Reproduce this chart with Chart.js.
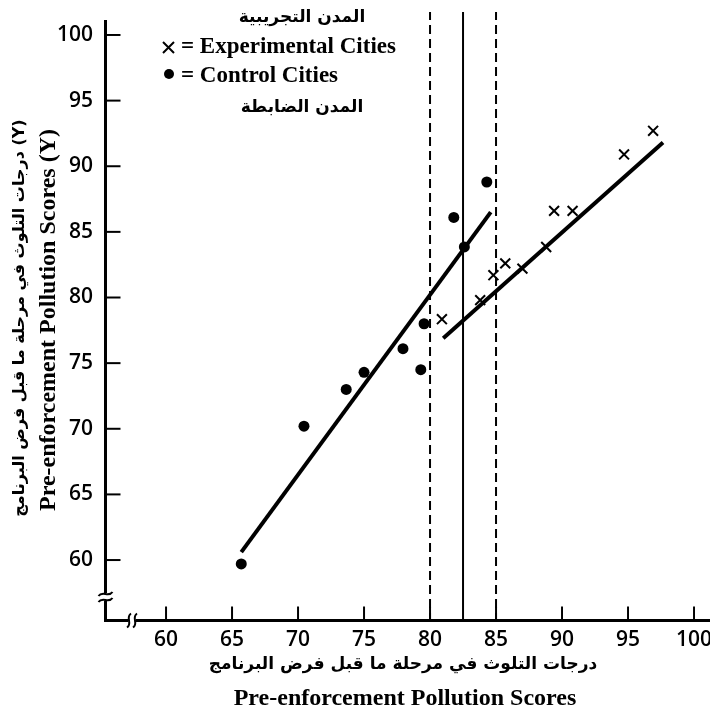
<!DOCTYPE html>
<html>
<head>
<meta charset="utf-8">
<script src="https://cdn.jsdelivr.net/npm/chart.js@4/dist/chart.umd.min.js"></script>
<style>
  html, body { margin: 0; padding: 0; background: #fff; }
  #wrap { width: 710px; height: 711px; position: relative; }
</style>
</head>
<body>
<div id="wrap"><canvas id="c" width="710" height="711"></canvas></div>
<script>
// ---- data ----
const xTickValues = [60, 65, 70, 75, 80, 85, 90, 95, 100];
const yTickValues = [60, 65, 70, 75, 80, 85, 90, 95, 100];

const controlX = [65.7, 70.45, 73.65, 75.0, 77.95, 79.3, 79.55, 81.8, 82.6, 84.3];
const controlY = [59.7, 70.2, 73.0, 74.3, 76.1, 74.5, 78.0, 86.1, 83.85, 88.8];

const experimentalX = [80.9, 83.8, 84.8, 85.7, 87.0, 88.8, 89.4, 90.8, 94.7, 96.9];
const experimentalY = [78.35, 79.8, 81.7, 82.6, 82.2, 83.85, 86.6, 86.6, 90.9, 92.7];

const controlFitX = [65.7, 84.6];
const controlFitY = [60.6, 86.5];
const experimentalFitX = [81.0, 97.65];
const experimentalFitY = [76.9, 91.8];

const cutoffSolid = [82.5];
const cutoffDashed = [80, 85];

const legendArabicTop = 'المدن التجريبية';
const legendExperimental = '= Experimental Cities';
const legendControl = '= Control Cities';
const legendArabicBottom = 'المدن الضابطة';
const xTitleArabic = 'درجات التلوث في مرحلة ما قبل فرض البرنامج';
const xTitleEnglish = 'Pre-enforcement Pollution Scores';
const yTitleArabic = '(Y) درجات التلوث في مرحلة ما قبل فرض البرنامج';
const yTitleEnglish = 'Pre-enforcement Pollution Scores (Y)';

const X_MIN = 55.3, X_MAX = 101.21, Y_MIN = 55.28, Y_MAX = 101.75;

// ---- build datasets ----
const zip = (xs, ys) => xs.map((x, i) => ({ x, y: ys[i] }));
const datasets = [];
cutoffDashed.forEach(v => datasets.push({
  type: 'line', data: [{ x: v, y: Y_MIN }, { x: v, y: Y_MAX }],
  borderColor: '#000', borderWidth: 2, borderDash: [9, 5], pointRadius: 0, fill: false
}));
cutoffSolid.forEach(v => datasets.push({
  type: 'line', data: [{ x: v, y: Y_MIN }, { x: v, y: Y_MAX }],
  borderColor: '#000', borderWidth: 2, pointRadius: 0, fill: false
}));
datasets.push({
  type: 'line', data: zip(controlFitX, controlFitY),
  borderColor: '#000', borderWidth: 4, pointRadius: 0, fill: false
});
datasets.push({
  type: 'line', data: zip(experimentalFitX, experimentalFitY),
  borderColor: '#000', borderWidth: 4, pointRadius: 0, fill: false
});
datasets.push({
  type: 'scatter', data: zip(controlX, controlY),
  pointStyle: 'circle', pointRadius: 5.5, backgroundColor: '#000', borderColor: '#000', borderWidth: 0
});
datasets.push({
  type: 'scatter', data: zip(experimentalX, experimentalY),
  pointStyle: 'crossRot', pointRadius: 7, borderColor: '#000', borderWidth: 2
});

const SERIF = '"Liberation Serif", "DejaVu Serif", serif';
const ARABIC = '"DejaVu Sans", "Noto Sans", sans-serif';
const TICKFAMILY = '"Open Sans", "Noto Sans", sans-serif';
const TICKFONT = { family: TICKFAMILY, size: 21, weight: '600' };

function drawBreakH(ctx, cx, cy) {
  ctx.save();
  ctx.fillStyle = '#fff';
  ctx.fillRect(cx - 4, cy - 3, 8, 6);
  ctx.strokeStyle = '#000';
  ctx.lineWidth = 2;
  [-3, 3].forEach(dx => {
    ctx.beginPath();
    ctx.moveTo(cx + dx + 2, cy - 7);
    ctx.bezierCurveTo(cx + dx - 4, cy - 3, cx + dx + 4, cy + 3, cx + dx - 2, cy + 7);
    ctx.stroke();
  });
  ctx.restore();
}
function drawBreakV(ctx, cx, cy) {
  ctx.save();
  ctx.fillStyle = '#fff';
  ctx.fillRect(cx - 3, cy - 4, 6, 8);
  ctx.strokeStyle = '#000';
  ctx.lineWidth = 2;
  [-3, 3].forEach(dy => {
    ctx.beginPath();
    ctx.moveTo(cx - 7, cy + dy + 2);
    ctx.bezierCurveTo(cx - 3, cy + dy - 4, cx + 3, cy + dy + 4, cx + 7, cy + dy - 2);
    ctx.stroke();
  });
  ctx.restore();
}

const decor = {
  id: 'decor',
  afterDraw(chart) {
    const { ctx, chartArea: ca, scales: { x, y } } = chart;
    ctx.save();
    ctx.strokeStyle = '#000';
    ctx.lineCap = 'butt';
    const ax = ca.left + 1.5, ay = ca.bottom - 1.5;
    ctx.lineWidth = 3;
    ctx.beginPath();
    ctx.moveTo(ax, 20);
    ctx.lineTo(ax, ay);
    ctx.lineTo(ca.right, ay);
    ctx.stroke();
    ctx.lineWidth = 2;
    xTickValues.forEach(v => {
      const px = x.getPixelForValue(v);
      ctx.beginPath(); ctx.moveTo(px, ay); ctx.lineTo(px, ay - 14); ctx.stroke();
    });
    yTickValues.forEach(v => {
      const py = y.getPixelForValue(v);
      ctx.beginPath(); ctx.moveTo(ax, py); ctx.lineTo(ax + 15, py); ctx.stroke();
    });
    drawBreakV(ctx, ax, 597);
    drawBreakH(ctx, 132, ay);

    // x tick labels
    ctx.fillStyle = '#000';
    ctx.textBaseline = 'middle';
    ctx.textAlign = 'center';
    ctx.font = '600 21px ' + TICKFAMILY;
    xTickValues.forEach(v => {
      ctx.fillText(String(v), x.getPixelForValue(v), 640);
    });

    // legend
    ctx.direction = 'rtl';
    ctx.font = 'bold 17px ' + ARABIC;
    ctx.fillText(legendArabicTop, 302, 18);
    ctx.fillText(legendArabicBottom, 302, 108);
    ctx.direction = 'ltr';
    ctx.textAlign = 'left';
    ctx.font = 'bold 23px ' + SERIF;
    ctx.fillText(legendExperimental, 181, 47);
    ctx.fillText(legendControl, 181, 76);
    ctx.lineWidth = 2;
    ctx.beginPath();
    ctx.moveTo(163, 42); ctx.lineTo(174, 53);
    ctx.moveTo(174, 42); ctx.lineTo(163, 53);
    ctx.stroke();
    ctx.beginPath(); ctx.arc(169, 74, 5, 0, Math.PI * 2); ctx.fill();

    // x title
    ctx.textAlign = 'center';
    ctx.direction = 'rtl';
    ctx.font = 'bold 17px ' + ARABIC;
    ctx.fillText(xTitleArabic, 403, 665);
    ctx.direction = 'ltr';
    ctx.font = 'bold 24px ' + SERIF;
    ctx.fillText(xTitleEnglish, 405, 699);

    // y title
    ctx.save();
    ctx.translate(20, 318);
    ctx.rotate(-Math.PI / 2);
    ctx.direction = 'rtl';
    ctx.font = 'bold 16px ' + ARABIC;
    ctx.fillText(yTitleArabic, 0, 0);
    ctx.restore();
    ctx.save();
    ctx.translate(49, 320);
    ctx.rotate(-Math.PI / 2);
    ctx.direction = 'ltr';
    ctx.font = 'bold 24px ' + SERIF;
    ctx.fillText(yTitleEnglish, 0, 0);
    ctx.restore();

    ctx.restore();
  }
};

new Chart(document.getElementById('c'), {
  data: { datasets },
  options: {
    responsive: false,
    animation: false,
    events: [],
    layout: { autoPadding: false, padding: { top: 12, left: 0, right: 0, bottom: 0 } },
    plugins: { legend: { display: false }, tooltip: { enabled: false } },
    scales: {
      x: {
        type: 'linear', min: X_MIN, max: X_MAX,
        grid: { display: false, drawTicks: false },
        border: { display: false },
        afterBuildTicks: s => { s.ticks = xTickValues.map(v => ({ value: v })); },
        afterFit: s => { s.height = 89; s.paddingLeft = 0; s.paddingRight = 0; },
        ticks: { display: false }
      },
      y: {
        type: 'linear', min: Y_MIN, max: Y_MAX,
        grid: { display: false, drawTicks: false },
        border: { display: false },
        afterBuildTicks: s => { s.ticks = yTickValues.map(v => ({ value: v })); },
        afterFit: s => { s.width = 104; s.paddingTop = 0; s.paddingBottom = 0; },
        ticks: { color: '#000', font: TICKFONT, padding: 11, autoSkip: false,
                 callback: v => String(v) }
      }
    }
  },
  plugins: [decor]
});
</script>
</body>
</html>
